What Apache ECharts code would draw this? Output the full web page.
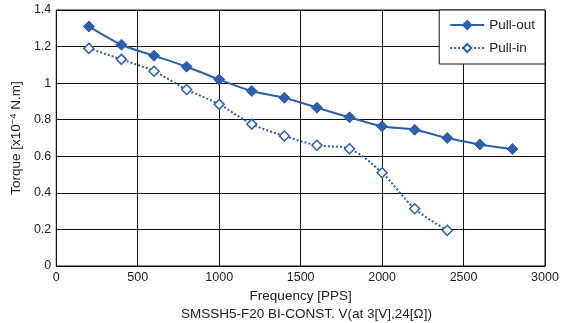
<!DOCTYPE html>
<html><head><meta charset="utf-8">
<script src="https://cdn.jsdelivr.net/npm/echarts@6/dist/echarts.min.js"></script>
<style>html,body{margin:0;padding:0;background:#fff}#c{width:566px;height:323px}</style>
</head><body><div id="c"></div>
<script>
const freqOut = [200,400,600,800,1000,1200,1400,1600,1800,2000,2200,2400,2600,2800];
const pullOut = [1.31,1.21,1.15,1.09,1.02,0.957,0.92,0.866,0.813,0.764,0.745,0.70,0.665,0.64];
const freqIn = [200,400,600,800,1000,1200,1400,1600,1800,2000,2200,2400];
const pullIn = [1.19,1.13,1.065,0.965,0.884,0.776,0.711,0.66,0.641,0.51,0.313,0.195];
const seriesNames = ['Pull-out','Pull-in'];
const xTitle = 'Frequency [PPS]';
const subTitle = 'SMSSH5-F20 BI-CONST. V(at 3[V],24[\u03A9])';

const color = '#2e5fac';
const font = 'Liberation Sans, Arial, sans-serif';
const chart = echarts.init(document.getElementById('c'), null, {renderer:'canvas'});
chart.setOption({
  animation:false,
  textStyle:{fontFamily:font},
  title:{text:subTitle, left:176, top:302, textStyle:{fontFamily:font,fontSize:13.5,fontWeight:'normal',color:'#222'}},
  grid:{left:53,right:21,top:10,bottom:57,show:true,borderColor:'#111',borderWidth:1},
  legend:{
    data:seriesNames, orient:'vertical', right:21, top:10,
    backgroundColor:'#fff', borderColor:'#111', borderWidth:1, borderRadius:0,
    padding:[8,10,9,10], itemGap:9, itemWidth:34, itemHeight:10,
    textStyle:{fontFamily:font,fontSize:13.5,color:'#222'}
  },
  xAxis:{type:'value',min:0,max:3000,interval:500,
    name:xTitle,nameLocation:'middle',nameGap:21,
    nameTextStyle:{fontFamily:font,fontSize:13.5,color:'#222'},
    axisLine:{lineStyle:{color:'#111',width:1}},axisTick:{show:false},
    axisLabel:{color:'#222',fontSize:12.5,fontFamily:font,margin:5,formatter:v=>String(v)},
    splitLine:{lineStyle:{color:'#111',width:1}}},
  yAxis:{type:'value',min:0,max:1.4,interval:0.2,
    name:'Torque [x10{sup|\u22124} N.m]',nameLocation:'middle',nameGap:29,
    nameTextStyle:{fontFamily:font,fontSize:13.5,color:'#222',
      rich:{sup:{fontSize:9.5,verticalAlign:'top',padding:[0,0,6,0],fontFamily:font,color:'#222'}}},
    axisLine:{show:true,lineStyle:{color:'#111',width:1}},axisTick:{show:false},
    axisLabel:{color:'#222',fontSize:12.5,fontFamily:font,margin:5,formatter:v=>String(+v.toFixed(1))},
    splitLine:{lineStyle:{color:'#111',width:1}}},
  series:[
    {name:seriesNames[0],type:'line',smooth:0.3,data:freqOut.map((f,i)=>[f,pullOut[i]]),
      symbol:'diamond',symbolSize:11,lineStyle:{color:color,width:2},
      itemStyle:{color:color,borderColor:color,borderWidth:1}},
    {name:seriesNames[1],type:'line',smooth:0.3,data:freqIn.map((f,i)=>[f,pullIn[i]]),
      symbol:'diamond',symbolSize:10,lineStyle:{color:color,width:2,type:[2,2]},
      itemStyle:{color:'#fff',borderColor:color,borderWidth:1.5}}
  ]
});
</script></body></html>
